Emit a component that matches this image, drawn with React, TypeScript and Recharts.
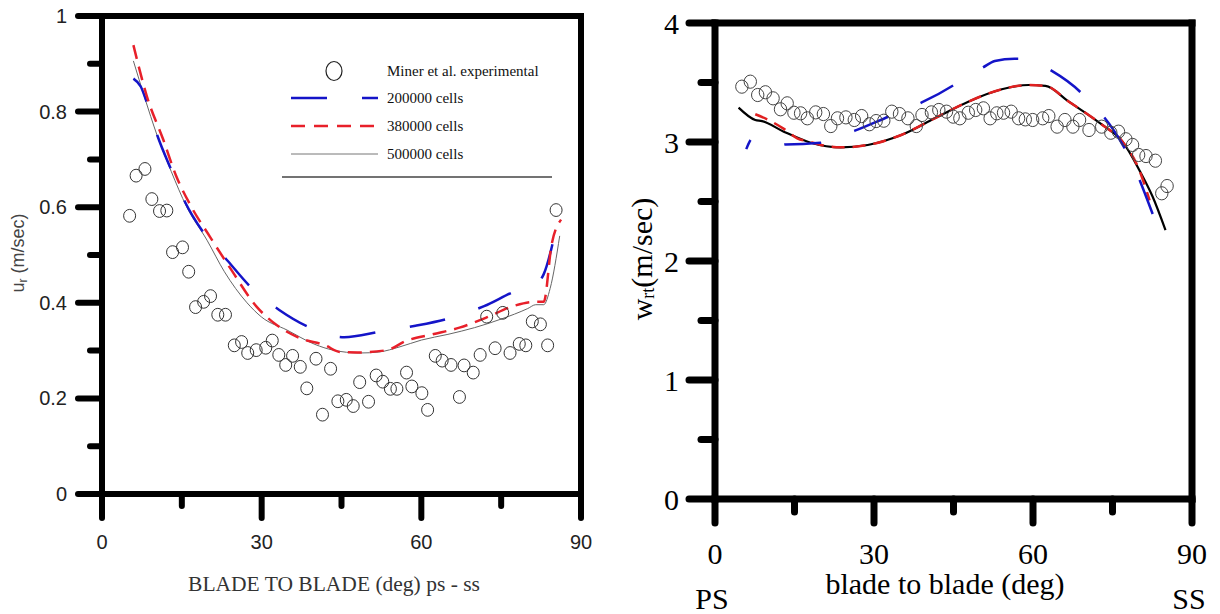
import React from "react";
import { ComposedChart, Line, Scatter, XAxis, YAxis, Legend } from "recharts";

const SANS = "'Liberation Sans', Arial, sans-serif";
const SERIF = "'Liberation Serif', 'Times New Roman', serif";

// ---- left panel: u_r vs blade-to-blade angle ----
const expLX = [5.19, 6.41, 8.07, 9.37, 10.81, 12.18, 13.26, 15.13, 16.29, 17.58, 19.1, 20.39, 21.76, 23.2, 24.86, 26.23, 27.38, 28.97, 30.77, 31.99, 33.22, 34.52, 35.81, 37.25, 38.48, 40.21, 41.43, 42.95, 44.32, 45.9, 47.2, 48.42, 50.08, 51.52, 52.75, 54.19, 55.41, 57.22, 58.22, 60.1, 61.18, 62.62, 63.92, 65.58, 67.16, 68.03, 69.75, 71.05, 72.28, 73.86, 75.3, 76.67, 78.4, 79.63, 80.85, 82.37, 83.73, 85.32];
const expLY = [0.582, 0.666, 0.68, 0.617, 0.592, 0.593, 0.506, 0.516, 0.465, 0.391, 0.402, 0.414, 0.375, 0.375, 0.311, 0.318, 0.295, 0.301, 0.306, 0.321, 0.291, 0.27, 0.289, 0.266, 0.221, 0.283, 0.166, 0.262, 0.194, 0.197, 0.184, 0.234, 0.193, 0.248, 0.235, 0.22, 0.22, 0.254, 0.225, 0.211, 0.176, 0.289, 0.279, 0.27, 0.203, 0.269, 0.254, 0.291, 0.371, 0.305, 0.379, 0.295, 0.314, 0.311, 0.361, 0.355, 0.311, 0.594];

const c200LX = [5.9, 7.3, 8.4, 10.4, 13.1, 15.6, 19.2, 23.6, 28.2, 33.3, 39.1, 45.5, 52.4, 58.9, 65.7, 71.8, 78.1, 81, 83.0, 85.2];
const c200LY = [0.869, 0.852, 0.82, 0.75, 0.676, 0.611, 0.545, 0.488, 0.43, 0.385, 0.348, 0.328, 0.34, 0.352, 0.369, 0.393, 0.426, 0.435, 0.46, 0.55];

const c380LX = [5.9, 8.43, 11.52, 13.84, 16.72, 20.29, 24, 29.12, 33, 37.2, 41.94, 44.72, 48, 53.55, 57.07, 62.11, 67.16, 72.2, 77.25, 81.21, 83.01, 84.45, 86.26];
const c380LY = [0.939, 0.832, 0.741, 0.668, 0.602, 0.538, 0.474, 0.391, 0.352, 0.326, 0.311, 0.297, 0.296, 0.301, 0.32, 0.334, 0.348, 0.369, 0.393, 0.402, 0.402, 0.52, 0.574];

const c500LX = [5.9, 8, 10.33, 13, 15.9, 19.73, 23, 27.25, 30, 34.76, 40, 43.4, 48.5, 52, 56, 60, 65, 70, 75, 80, 81.5, 83, 84.2, 86];
const c500LY = [0.906, 0.83, 0.751, 0.675, 0.601, 0.531, 0.465, 0.4, 0.37, 0.343, 0.313, 0.301, 0.295, 0.297, 0.308, 0.322, 0.334, 0.348, 0.366, 0.388, 0.396, 0.396, 0.43, 0.54];

const leftXTicks = [0, 15, 30, 45, 60, 75, 90];
const leftXMajor = [0, 30, 60, 90];
const leftYTicks = [0, 0.1, 0.2, 0.3, 0.4, 0.5, 0.6, 0.7, 0.8, 0.9, 1];
const leftYMajor = [0, 0.2, 0.4, 0.6, 0.8, 1];
const leftYLabels = ["0", "0.2", "0.4", "0.6", "0.8", "1"];
const leftRightTicks = [1 / 6, 2 / 6, 3 / 6, 4 / 6, 5 / 6];
const leftRightMajor = [2 / 6, 4 / 6];
const topTicks = [15, 30, 45, 60, 75];
const topMajor = [30, 60];

// ---- right panel: w_rt vs blade-to-blade angle ----
const expRX = [5.07, 6.66, 8.06, 9.51, 10.96, 12.36, 13.62, 14.89, 16.15, 17.42, 19.0, 20.45, 21.85, 23.11, 24.7, 26.28, 27.67, 29.13, 30.4, 31.85, 33.36, 34.81, 36.4, 37.98, 39.06, 40.83, 42.23, 43.68, 44.94, 46.2, 47.79, 49.19, 50.64, 51.91, 53.17, 54.44, 55.88, 57.28, 58.55, 59.94, 61.83, 62.98, 64.55, 66.02, 67.53, 68.79, 70.57, 72.96, 74.68, 76.13, 77.53, 78.79, 79.93, 81.32, 83.09, 84.3, 85.3];
const expRY = [3.465, 3.507, 3.395, 3.418, 3.367, 3.275, 3.325, 3.246, 3.241, 3.199, 3.249, 3.235, 3.134, 3.199, 3.207, 3.185, 3.218, 3.149, 3.176, 3.179, 3.255, 3.235, 3.199, 3.134, 3.227, 3.249, 3.269, 3.255, 3.213, 3.199, 3.246, 3.269, 3.283, 3.199, 3.241, 3.246, 3.255, 3.199, 3.19, 3.185, 3.199, 3.218, 3.129, 3.185, 3.129, 3.185, 3.101, 3.129, 3.078, 3.087, 3.023, 2.975, 2.891, 2.882, 2.843, 2.569, 2.63];

const c200RX = [5.9, 7.1, 10, 13.3, 19.9, 23, 26.4, 32.74, 35.8, 38.92, 45.07, 47.8, 50.5, 52.8, 56.5, 58.5, 60.5, 63.28, 68.98, 71.2, 73.42, 77.2, 78.7, 80.06, 82.58];
const c200RY = [2.94, 3.03, 3.0, 2.98, 2.994, 3.04, 3.095, 3.213, 3.27, 3.33, 3.479, 3.56, 3.625, 3.681, 3.7, 3.7, 3.67, 3.605, 3.418, 3.31, 3.208, 2.955, 2.83, 2.687, 2.395];

const c380RX = [7.6, 9.83, 13, 15.51, 17.74, 20, 23.74, 28.81, 35.13, 41.45, 47.79, 54.11, 59.17, 62.34, 66.77, 73.09, 76.89, 80.05, 82.0];
const c380RY = [3.233, 3.191, 3.11, 3.031, 3.003, 2.975, 2.955, 2.975, 3.059, 3.199, 3.339, 3.443, 3.479, 3.471, 3.339, 3.143, 3.003, 2.765, 2.51];

const c500RX = [4.45, 7.6, 8.87, 12.98, 18.06, 23.74, 28.81, 35.13, 41.45, 47.79, 54.11, 59.17, 62.34, 66.77, 73.09, 76.89, 80.05, 82.58, 85.0];
const c500RY = [3.289, 3.185, 3.176, 3.087, 2.994, 2.955, 2.975, 3.059, 3.199, 3.339, 3.443, 3.479, 3.471, 3.339, 3.143, 3.003, 2.765, 2.54, 2.26];

const rightYTicks = [0, 0.5, 1, 1.5, 2, 2.5, 3, 3.5, 4];
const rightYMajor = [0, 1, 2, 3, 4];
const rightRightTicks = [4 / 6, 8 / 6, 2, 16 / 6, 20 / 6];
const rightRightMajor = [8 / 6, 16 / 6];

const zip = (xs: number[], ys: number[]) => xs.map((x, i) => ({ x, y: ys[i] }));

const isIn = (list: number[], v: number) => list.some((m) => Math.abs(m - v) < 1e-6);

// all ticks here run either leftwards ("h") or downwards ("v") from the axis
function makeTick(cfg: {
  dir: "h" | "v";
  majors: number[];
  major: number;
  minor: number;
  sw: number;
  offset?: number;
  fmt?: (v: number) => string;
  font?: string;
  size?: number;
  color?: string;
}) {
  return (p: any) => {
    const v = p.payload.value;
    const big = isIn(cfg.majors, v);
    const len = big ? cfg.major : cfg.minor;
    const x2 = cfg.dir === "h" ? p.x - len : p.x;
    const y2 = cfg.dir === "v" ? p.y + len : p.y;
    return (
      <g>
        <line x1={p.x} y1={p.y} x2={x2} y2={y2} stroke="#000" strokeWidth={cfg.sw} strokeLinecap="round" />
        {big && cfg.fmt ? (
          <text
            x={cfg.dir === "h" ? p.x - (cfg.offset || 0) : p.x}
            y={cfg.dir === "v" ? p.y + (cfg.offset || 0) : p.y}
            textAnchor={cfg.dir === "h" ? "end" : "middle"}
            dominantBaseline="central"
            fontFamily={cfg.font}
            fontSize={cfg.size}
            fill={cfg.color}
          >
            {cfg.fmt(v)}
          </text>
        ) : null}
      </g>
    );
  };
}

const ring = (r: number, color: string) => (p: any) =>
  <ellipse cx={p.cx} cy={p.cy} rx={r} ry={r + 0.4} fill="none" stroke={color} strokeWidth={1} />;

function LegendBox() {
  return (
    <svg width={290} height={150} style={{ display: "block" }}>
      <ellipse cx={64} cy={31} rx={8} ry={9.5} fill="none" stroke="#222" strokeWidth={1.2} />
      <text x={117} y={31} dominantBaseline="central" fontFamily={SERIF} fontSize={15} fill="#111">Miner et al. experimental</text>
      <line x1={21} y1={58} x2={108} y2={58} stroke="#1414c8" strokeWidth={2.5} strokeDasharray="36 35" />
      <text x={117} y={58} dominantBaseline="central" fontFamily={SERIF} fontSize={15} fill="#111">200000 cells</text>
      <line x1={21} y1={86} x2={108} y2={86} stroke="#e8202a" strokeWidth={2.5} strokeDasharray="14 9" />
      <text x={117} y={86} dominantBaseline="central" fontFamily={SERIF} fontSize={15} fill="#111">380000 cells</text>
      <line x1={21} y1={114} x2={108} y2={114} stroke="#777" strokeWidth={1} />
      <text x={117} y={114} dominantBaseline="central" fontFamily={SERIF} fontSize={15} fill="#111">500000 cells</text>
      <line x1={12} y1={137} x2={282} y2={137} stroke="#444" strokeWidth={1.5} />
    </svg>
  );
}

// axes are 1px wide/high (recharts skips axes of zero size); margins compensate
function LeftPanel() {
  const sw = 6;
  const frame = { stroke: "#000", strokeWidth: sw, strokeLinecap: "square" as const };
  const lab = { font: SANS, size: 20, color: "#222" };
  return (
    <ComposedChart width={610} height={614} margin={{ top: 15, right: 28, bottom: 119, left: 101 }}>
      <XAxis dataKey="x" type="number" domain={[0, 90]} ticks={leftXTicks} interval={0} height={1} tickSize={0} tickMargin={0} tickLine={false} axisLine={frame}
        tick={makeTick({ dir: "v", majors: leftXMajor, major: 24, minor: 12, sw, offset: 48, fmt: (v) => String(v), ...lab })} />
      <XAxis xAxisId="t" orientation="top" type="number" domain={[0, 90]} ticks={topTicks} interval={0} height={1} tickSize={0} tickMargin={0} tickLine={false} axisLine={frame}
        tick={makeTick({ dir: "v", majors: topMajor, major: 22, minor: 12, sw })} />
      <YAxis type="number" domain={[0, 1]} ticks={leftYTicks} interval={0} width={1} tickSize={0} tickMargin={0} tickLine={false} axisLine={frame}
        tick={makeTick({ dir: "h", majors: leftYMajor, major: 24, minor: 12, sw, offset: 35, fmt: (v) => leftYLabels[leftYMajor.findIndex((m) => Math.abs(m - v) < 1e-6)], ...lab })} />
      <YAxis yAxisId="r" orientation="right" type="number" domain={[0, 1]} ticks={leftRightTicks} interval={0} width={1} tickSize={0} tickMargin={0} tickLine={false} axisLine={frame}
        tick={makeTick({ dir: "h", majors: leftRightMajor, major: 27, minor: 12, sw })} />
      <Legend layout="horizontal" verticalAlign="middle" align="center" wrapperStyle={{ left: 270, top: 40, width: 290, height: 150 }} content={() => <LegendBox />} />
      <Scatter data={zip(expLX, expLY)} dataKey="y" shape={ring(6, "#333")} isAnimationActive={false} />
      <Line data={zip(c500LX, c500LY)} dataKey="y" type="monotone" stroke="#666" strokeWidth={1} dot={false} isAnimationActive={false} />
      <Line data={zip(c200LX, c200LY)} dataKey="y" type="monotone" stroke="#1414c8" strokeWidth={2.5} strokeDasharray="36 35" strokeDashoffset={9} dot={false} isAnimationActive={false} />
      <Line data={zip(c380LX, c380LY)} dataKey="y" type="monotone" stroke="#e8202a" strokeWidth={2.5} strokeDasharray="14 8" dot={false} isAnimationActive={false} />
    </ComposedChart>
  );
}

function RightPanel() {
  const sw = 7;
  const frame = { stroke: "#000", strokeWidth: sw, strokeLinecap: "square" as const };
  const lab = { font: SERIF, size: 30, color: "#000" };
  return (
    <ComposedChart width={610} height={614} margin={{ top: 22, right: 27, bottom: 114, left: 104 }}>
      <XAxis dataKey="x" type="number" domain={[0, 90]} ticks={leftXTicks} interval={0} height={1} tickSize={0} tickMargin={0} tickLine={false} axisLine={frame}
        tick={makeTick({ dir: "v", majors: leftXMajor, major: 24, minor: 13, sw, offset: 54, fmt: (v) => String(v), ...lab })} />
      <XAxis xAxisId="t" orientation="top" type="number" domain={[0, 90]} ticks={topTicks} interval={0} height={1} tickSize={0} tickMargin={0} tickLine={false} axisLine={frame}
        tick={makeTick({ dir: "v", majors: topMajor, major: 26, minor: 14, sw })} />
      <YAxis type="number" domain={[0, 4]} ticks={rightYTicks} interval={0} width={1} tickSize={0} tickMargin={0} tickLine={false} axisLine={frame}
        tick={makeTick({ dir: "h", majors: rightYMajor, major: 26, minor: 14, sw, offset: 36, fmt: (v) => String(v), ...lab })} />
      <YAxis yAxisId="r" orientation="right" type="number" domain={[0, 4]} ticks={rightRightTicks} interval={0} width={1} tickSize={0} tickMargin={0} tickLine={false} axisLine={frame}
        tick={makeTick({ dir: "h", majors: rightRightMajor, major: 29, minor: 15, sw })} />
      <Scatter data={zip(expRX, expRY)} dataKey="y" shape={ring(6.2, "#444")} isAnimationActive={false} />
      <Line data={zip(c500RX, c500RY)} dataKey="y" type="monotone" stroke="#000" strokeWidth={2.2} dot={false} isAnimationActive={false} />
      <Line data={zip(c380RX, c380RY)} dataKey="y" type="monotone" stroke="#e02020" strokeWidth={2.5} strokeDasharray="13 8" dot={false} isAnimationActive={false} />
      <Line data={zip(c200RX, c200RY)} dataKey="y" type="monotone" stroke="#1414c8" strokeWidth={2.5} strokeDasharray="37 35" strokeDashoffset={27} dot={false} isAnimationActive={false} />
    </ComposedChart>
  );
}

export default function App() {
  return (
    <div style={{ position: "absolute", left: 0, top: 0, width: 1220, height: 614, background: "#fff", overflow: "hidden" }}>
      <div style={{ position: "absolute", left: 0, top: 0 }}>
        <LeftPanel />
      </div>
      <div style={{ position: "absolute", left: 610, top: 0 }}>
        <RightPanel />
      </div>
      <svg width={1220} height={614} style={{ position: "absolute", left: 0, top: 0, pointerEvents: "none" }}>
        <text x={18} y={253} transform="rotate(-90 18 253)" textAnchor="middle" dominantBaseline="central" fontFamily={SANS} fontSize={18} fill="#444">
          u<tspan fontSize={12} dy={5}>r</tspan><tspan dy={-5}> (m/sec)</tspan>
        </text>
        <text x={334} y={584} textAnchor="middle" dominantBaseline="central" fontFamily={SERIF} fontSize={21.5} fill="#333">
          BLADE TO BLADE (deg) ps - ss
        </text>
        <text x={641} y={259} transform="rotate(-90 641 259)" textAnchor="middle" dominantBaseline="central" fontFamily={SERIF} fontSize={30} fill="#000">
          w<tspan fontSize={18} dy={7}>rt</tspan><tspan dy={-7}>(m/sec)</tspan>
        </text>
        <text x={945} y={583} textAnchor="middle" dominantBaseline="central" fontFamily={SERIF} fontSize={30} fill="#000">
          blade to blade (deg)
        </text>
        <text x={712} y={598} textAnchor="middle" dominantBaseline="central" fontFamily={SERIF} fontSize={30} fill="#000">PS</text>
        <text x={1189} y={598} textAnchor="middle" dominantBaseline="central" fontFamily={SERIF} fontSize={30} fill="#000">SS</text>
      </svg>
    </div>
  );
}
